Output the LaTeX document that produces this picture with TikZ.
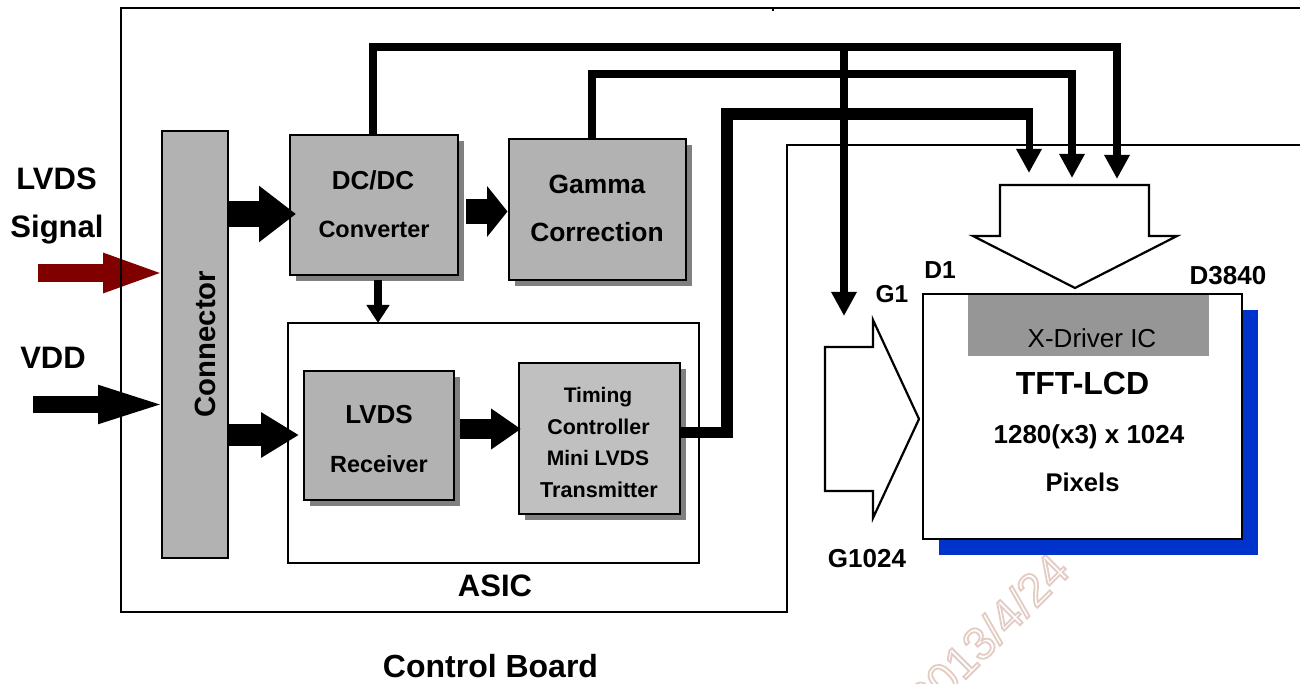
\documentclass[tikz,border=0pt]{standalone}
\usepackage{fontspec}
\setmainfont{Liberation Sans}
\usetikzlibrary{arrows.meta,shadows}
\definecolor{blockgray}{HTML}{B2B2B2}
\definecolor{lightblock}{HTML}{C0C0C0}
\definecolor{shadowgray}{HTML}{808080}
\definecolor{drivergray}{HTML}{969696}
\definecolor{panelblue}{HTML}{0033CC}
\definecolor{sigred}{HTML}{800000}
\newcommand{\fs}[1]{\fontsize{#1}{#1}\selectfont}
\tikzset{
  blk/.style={draw=black,line width=2.5pt,fill=blockgray,inner sep=0pt,outer sep=0pt},
  shadowed/.style={copy shadow={shadow xshift=6pt,shadow yshift=-6pt,fill=shadowgray,draw=none}},
  lab/.style={anchor=base,inner sep=0pt,outer sep=0pt,font=\bfseries},
  bus/.style={line width=#1,line cap=butt,line join=miter,draw=black},
  hollow/.style={draw=black,line width=2.2pt,fill=white,line join=miter},
  wire/.style={draw=black,line width=1.2pt},
  headtip/.style={-{Triangle[length=24pt,width=24pt]}},
}
\begin{document}
\begin{tikzpicture}[x=1pt,y=-1pt]
\useasboundingbox (0,0) rectangle (1300,684);
\fill[white] (0,0) rectangle (1300,684);

% input arrows
\coordinate (lvdsin) at (38,273);
\coordinate (lvdstip) at (166,273);
\coordinate (vddin) at (33,404.5);
\coordinate (vddtip) at (170,404.5);
\draw[sigred,line width=18pt,-{Triangle[length=63pt,width=35pt]}] (lvdsin) -- (lvdstip);
\draw[black,line width=17pt,-{Triangle[length=72pt,width=33pt]}] (vddin) -- (vddtip);

% control board outline
\draw[wire] (1300,8) -- (121,8) -- (121,612) -- (787,612) -- (787,145) -- (1300,145);
\coordinate (tickatop) at (773,8);
\coordinate (tickbtop) at (773,11);
\draw[wire] (tickatop) -- (tickbtop);

% watermark
\node[inner sep=0pt,anchor=base east,rotate=45,font=\fs{46}] (stamp) at (1072,573)
  {\special{pdf:code q 1 Tr 1.8 w 0.89 0.80 0.77 RG 1 1 1 rg}2013/4/24\special{pdf:code Q}};

% blocks
\node[blk,minimum width=66pt,minimum height=427pt] (conn) at (195,344.5) {};
\node[blk,shadowed,minimum width=168pt,minimum height=140pt] (dc) at (374,205) {};
\node[blk,shadowed,minimum width=177pt,minimum height=141pt] (gamma) at (597.5,209.5) {};
\node[draw=black,line width=2.5pt,fill=white,inner sep=0pt,outer sep=0pt,minimum width=411pt,minimum height=240pt] (asic) at (493.5,443) {};
\node[blk,shadowed,minimum width=150pt,minimum height=129pt] (recv) at (379,435.5) {};
\node[blk,shadowed,fill=lightblock,minimum width=161pt,minimum height=151pt] (tcon) at (599.5,438.5) {};

% TFT panel
\node[draw=black,line width=2.5pt,fill=white,inner sep=0pt,outer sep=0pt,minimum width=319pt,minimum height=245pt,
  copy shadow={shadow xshift=16pt,shadow yshift=-16pt,fill=panelblue,draw=none}] (tft) at (1082.5,416.5) {};
\node[fill=drivergray,inner sep=0pt,outer sep=0pt,minimum width=241pt,minimum height=61pt] (xdrv) at (1088.5,325.5) {};

% block arrows
\coordinate (a1s) at (227,214); \coordinate (a1e) at (296,214);
\coordinate (a2s) at (227,435); \coordinate (a2e) at (299,435);
\coordinate (a3s) at (466,211.5); \coordinate (a3e) at (507.5,211.5);
\coordinate (a4s) at (460,429); \coordinate (a4e) at (521,429);
\coordinate (a5s) at (378,280); \coordinate (a5e) at (378,323);
\draw[line width=26pt,-{Triangle[length=37pt,width=54pt]}] (a1s) -- (a1e);
\draw[line width=22pt,-{Triangle[length=38pt,width=43pt]}] (a2s) -- (a2e);
\draw[line width=25pt,-{Triangle[length=20.5pt,width=50pt]}] (a3s) -- (a3e);
\draw[line width=20pt,-{Triangle[length=30pt,width=39pt]}] (a4s) -- (a4e);
\draw[line width=7.5pt,-{Triangle[length=18pt,width=22pt]}] (a5s) -- (a5e);

% hollow arrows
\draw[hollow] (1000,185) -- (1149,185) -- (1149,236) -- (1177,236) -- (1075,288) -- (973,236) -- (1000,236) -- cycle;
\draw[hollow] (825,347) -- (873,347) -- (873,320) -- (919,419) -- (873,518) -- (873,491) -- (825,491) -- cycle;

% bus lines
\coordinate (dcout) at (373,135);
\coordinate (dcup) at (373,47.5);
\coordinate (dcright) at (1117,47.5);
\coordinate (dctip) at (1117,179);
\coordinate (dcbranch) at (844,47.5);
\coordinate (gatetip) at (844,316);
\coordinate (gout) at (592,139);
\coordinate (gup) at (592,74);
\coordinate (gright) at (1072,74);
\coordinate (gtip) at (1072,178);
\coordinate (tout) at (681,432);
\coordinate (tmid) at (726.5,432);
\coordinate (tup) at (726.5,114);
\coordinate (tright) at (1029,114);
\coordinate (ttip) at (1029,173);
\draw[bus=7.5pt,headtip] (dcbranch) -- (gatetip);
\draw[bus=8pt] (dcout) -- (dcup) -- (dcright) -- (1117,150);
\draw[bus=7.5pt,headtip] (1117,150) -- (dctip);
\draw[bus=8pt] (gout) -- (gup) -- (gright) -- (1072,150);
\draw[bus=7.5pt,headtip] (1072,150) -- (gtip);
\draw[bus=11pt] (tout) -- (tmid);
\draw[bus=12pt] (726.5,437.5) -- (tup) -- (tright);
\draw[bus=7pt,headtip] (tright) ++(0,-5.5) -- (ttip);

% labels
\node[lab,font=\bfseries\fs{31}] (l1) at (56.5,190) {LVDS};
\node[lab,font=\bfseries\fs{31}] (l2) at (57,238) {Signal};
\node[lab,font=\bfseries\fs{31}] (l3) at (53,368) {VDD};
\node[lab,font=\bfseries\fs{29.3},rotate=90] (l4) at (215,344) {Connector};
\node[lab,font=\bfseries\fs{26}] (l5) at (373,190) {DC/DC};
\node[lab,font=\bfseries\fs{23.5}] (l6) at (374,238) {Converter};
\node[lab,font=\bfseries\fs{26.4}] (l7) at (597,194) {Gamma};
\node[lab,font=\bfseries\fs{26.4}] (l8) at (597,242) {Correction};
\node[lab,font=\bfseries\fs{26}] (l9) at (379,423) {LVDS};
\node[lab,font=\bfseries\fs{23.4}] (l10) at (379,472) {Receiver};
\node[lab,font=\bfseries\fs{21}] (l11) at (598,402) {Timing};
\node[lab,font=\bfseries\fs{21.4}] (l12) at (598.5,434) {Controller};
\node[lab,font=\bfseries\fs{21}] (l13) at (598,465) {Mini LVDS};
\node[lab,font=\bfseries\fs{21.6}] (l14) at (599,497) {Transmitter};
\node[lab,font=\bfseries\fs{31}] (l15) at (495,596) {ASIC};
\node[lab,font=\bfseries\fs{32}] (l16) at (490.5,677) {Control Board};
\node[lab,font=\bfseries\fs{24.6}] (l17) at (940,279) {D1};
\node[lab,font=\bfseries\fs{26}] (l18) at (1228,285) {D3840};
\node[lab,font=\bfseries\fs{24.5}] (l19) at (892,303) {G1};
\node[lab,font=\bfseries\fs{26}] (l20) at (867,567) {G1024};
\node[lab,font=\fs{26}] (l21) at (1092,347) {X-Driver IC};
\node[lab,font=\bfseries\fs{32}] (l22) at (1082.5,394) {TFT-LCD};
\node[lab,font=\bfseries\fs{26}] (l23) at (1089,443) {1280(x3) x 1024};
\node[lab,font=\bfseries\fs{25.6}] (l24) at (1082.5,491) {Pixels};
\end{tikzpicture}
\end{document}
